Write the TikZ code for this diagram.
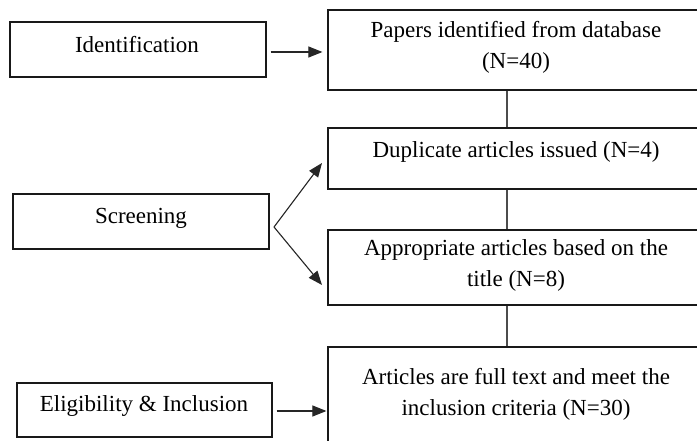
\documentclass[tikz,border=0pt]{standalone}
\usepackage{fontspec}
\setmainfont{Liberation Serif}
\usetikzlibrary{arrows.meta}
\begin{document}
\begin{tikzpicture}[x=1pt,y=-1pt,
  box/.style={draw=black!90, line width=1.2pt, rectangle, inner sep=0pt},
  txt/.style={font=\fontsize{23}{31}\selectfont, align=center, inner sep=0pt, text=black},
  link/.style={draw=black!70, line width=1.1pt},
  arr/.style={draw=black!85, line width=1.1pt, -{Triangle[length=14pt,width=11pt]}}]
\useasboundingbox (0,0) rectangle (697,441);
\clip (0,0) rectangle (697,441);
\fill[white] (0,0) rectangle (697,441);
% left boxes
\node[box, minimum width=256, minimum height=55] (idb) at (138,49.5) {};
\node[txt] (idt) at (137,45) {Identification};
\node[box, minimum width=256, minimum height=55] (scb) at (141,221.5) {};
\node[txt] (sct) at (141,218) {Screening};
\node[box, minimum width=255, minimum height=54] (elb) at (144.5,410) {};
\node[txt] (elt) at (144,406) {Eligibility \& Inclusion};
% right boxes
\node[box, minimum width=382, minimum height=80] (pab) at (519,50) {};
\node[txt] (pat) at (516,47.5) {Papers identified from database\\(N=40)};
\node[box, minimum width=382, minimum height=61] (dub) at (519,158.5) {};
\node[txt] (dut) at (516,152) {Duplicate articles issued (N=4)};
\node[box, minimum width=382, minimum height=75] (apb) at (519,267.5) {};
\node[txt] (apt) at (516,265) {Appropriate articles based on the\\title (N=8)};
\node[box, minimum width=382, minimum height=100] (arb) at (519,397) {};
\node[txt] (art) at (516,394) {Articles are full text and meet the\\inclusion criteria (N=30)};
% vertical links
\coordinate (vx) at (507,0);
\draw[link] (pab.south -| vx) -- (dub.north -| vx);
\draw[link] (dub.south -| vx) -- (apb.north -| vx);
\draw[link] (apb.south -| vx) -- (arb.north -| vx);
% arrows
\draw[arr, shorten <=4pt, shorten >=5pt] (idb.east |- 0,52) -- (pab.west |- 0,52);
\coordinate (sv) at (274,227);
\coordinate (su) at (322,163);
\coordinate (sd) at (322,285);
\draw[arr] (sv) -- (su);
\draw[arr] (sv) -- (sd);
\draw[arr, shorten <=4pt, shorten >=1pt] (elb.east |- 0,411) -- (arb.west |- 0,411);
\end{tikzpicture}
\end{document}
